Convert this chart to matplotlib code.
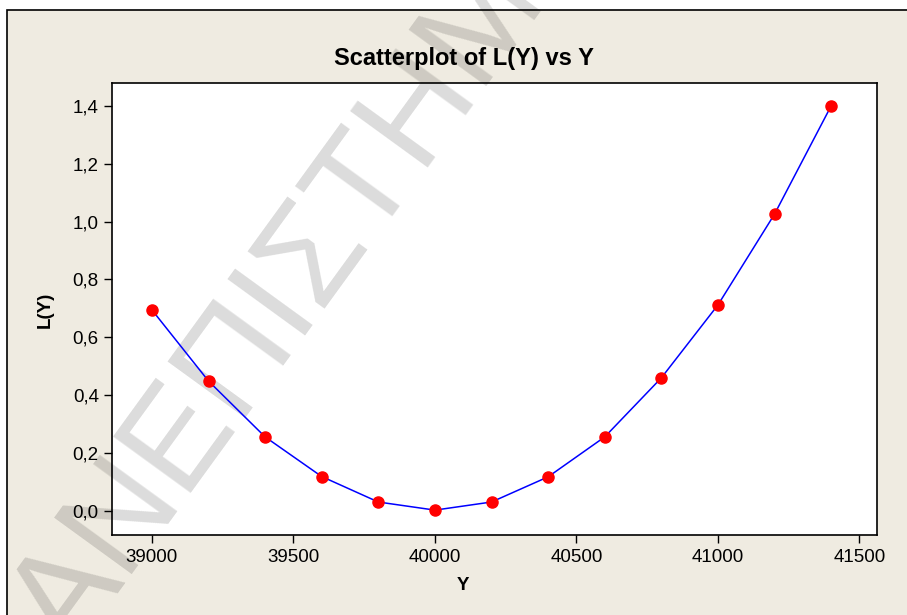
import numpy as np
import matplotlib
matplotlib.use("Agg")
import matplotlib.pyplot as plt
from matplotlib.patches import Rectangle
from matplotlib.ticker import FuncFormatter

# data
y_vals = [39000, 39200, 39400, 39600, 39800, 40000, 40200,
          40400, 40600, 40800, 41000, 41200, 41400]
l_vals = [0.695, 0.449, 0.256, 0.119, 0.031, 0.003, 0.031,
          0.118, 0.256, 0.460, 0.712, 1.026, 1.400]
x_ticks = [39000, 39500, 40000, 40500, 41000, 41500]
y_ticks = [0.0, 0.2, 0.4, 0.6, 0.8, 1.0, 1.2, 1.4]

title = "Scatterplot of L(Y) vs Y"
x_label = "Y"
y_label = "L(Y)"
watermark = "ΑΝΕΠΙΣΤΗΜΙ"

plt.rcParams['font.family'] = ['Liberation Sans', 'DejaVu Sans']

W, H = 907, 615
fig = plt.figure(figsize=(W / 100, H / 100), dpi=100, facecolor='white')

# beige graph region with black frame (Minitab style)
fig.patches.append(Rectangle((7 / W, -0.2), 1.3, 1 - 10 / H + 0.2,
                             transform=fig.transFigure, facecolor='#EFEBE1',
                             edgecolor='black', linewidth=1.2, zorder=-1))

left, right, top, bottom = 112, 877, 83, 535
ax = fig.add_axes([left / W, 1 - bottom / H, (right - left) / W, (bottom - top) / H])
ax.set_facecolor('white')

# watermark, below the data but above the backgrounds
ax.text(292 / W, 1 - 292 / H, watermark, transform=fig.transFigure,
        fontsize=100, color='black', alpha=0.14, rotation=54,
        ha='center', va='center', rotation_mode='anchor',
        clip_on=False, zorder=0.5)

ax.plot(y_vals, l_vals, color='#0000FF', linewidth=1.1, zorder=2)
ax.plot(y_vals, l_vals, linestyle='none', marker='o', markersize=8,
        markerfacecolor='#FF0000', markeredgecolor='#FF0000', zorder=3)

ax.set_xlim(38859, 41562)
ax.set_ylim(-0.083, 1.479)
ax.set_xticks(x_ticks)
ax.set_yticks(y_ticks)
ax.xaxis.set_major_formatter(FuncFormatter(lambda v, p: f"{int(v)}"))
ax.yaxis.set_major_formatter(FuncFormatter(lambda v, p: f"{v:.1f}".replace('.', ',')))
ax.tick_params(axis='both', direction='out', length=5.5, width=1.0,
               labelsize=13.5, colors='black')
ax.tick_params(axis='x', pad=4.5)
ax.tick_params(axis='y', pad=4)
for s in ax.spines.values():
    s.set_linewidth(1.2)
    s.set_color('black')

fig.text(464 / W, 1 - 58 / H, title, ha='center', va='center',
         fontsize=17, fontweight='bold')
fig.text(463 / W, 1 - 586 / H, x_label, ha='center', va='center',
         fontsize=13.5, fontweight='bold')
fig.text(45 / W, 1 - 310 / H, y_label, ha='center', va='center',
         rotation=90, fontsize=13.5, fontweight='bold')

fig.savefig("out.png", dpi=100, facecolor=fig.get_facecolor())
